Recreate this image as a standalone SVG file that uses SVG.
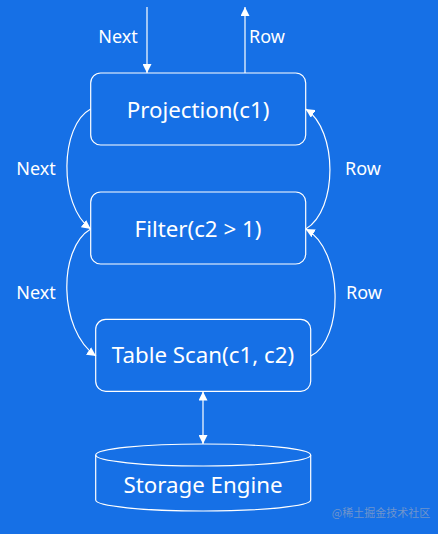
<svg xmlns="http://www.w3.org/2000/svg" width="438" height="534" viewBox="0 0 438 534">
<style>
.box{fill:none;stroke:#ffffff;stroke-width:1.2}
.ln{fill:none;stroke:#ffffff;stroke-width:1.2}
.t{font-family:"Noto Sans","Open Sans",sans-serif;fill:#ffffff;text-anchor:middle}
.big{font-size:22.3px}
.lbl{font-size:18px}
</style>
<defs>
<marker id="ah" viewBox="0 0 10 10" refX="10" refY="5" markerWidth="9" markerHeight="9" markerUnits="userSpaceOnUse" orient="auto">
<path d="M0,0 L10,5 L0,10 z" fill="#ffffff"/>
</marker>
<marker id="ahs" viewBox="0 0 10 10" refX="0" refY="5" markerWidth="9" markerHeight="9" markerUnits="userSpaceOnUse" orient="auto">
<path d="M10,0 L0,5 L10,10 z" fill="#ffffff"/>
</marker>
</defs>
<rect width="438" height="534" fill="#1670e6"/>
<g id="connectors">
<line class="ln" x1="147" y1="7" x2="147" y2="73" marker-end="url(#ah)"/>
<line class="ln" x1="245" y1="73" x2="245" y2="7" marker-end="url(#ah)"/>
<path class="ln" d="M90.7,109 C60,125 58,205 90.7,229" marker-end="url(#ah)"/>
<path class="ln" d="M305.7,229 C338,210 338,130 305.7,109" marker-end="url(#ah)"/>
<path class="ln" d="M90.7,229 C58,248 58,330 96,356" marker-end="url(#ah)"/>
<path class="ln" d="M310.7,356 C344,340 344,250 305.7,229" marker-end="url(#ah)"/>
<line class="ln" x1="203" y1="391.5" x2="203" y2="444" marker-start="url(#ahs)" marker-end="url(#ah)"/>
<text class="t lbl" x="118" y="43">Next</text>
<text class="t lbl" x="267" y="43">Row</text>
<text class="t lbl" x="36" y="175">Next</text>
<text class="t lbl" x="363" y="175">Row</text>
<text class="t lbl" x="36" y="299">Next</text>
<text class="t lbl" x="364" y="299">Row</text>
</g>
<g id="projection">
<rect class="box" x="90.7" y="73" width="215" height="72" rx="10"/>
<text class="t big" x="198" y="118">Projection(c1)</text>
</g>
<g id="filter">
<rect class="box" x="90.7" y="192" width="215" height="72" rx="10"/>
<text class="t big" x="198" y="237">Filter(c2 &gt; 1)</text>
</g>
<g id="tablescan">
<rect class="box" x="95.7" y="319.3" width="215" height="72" rx="10"/>
<text class="t big" x="203" y="363">Table Scan(c1, c2)</text>
</g>
<g id="storage">
<path class="box" d="M95.7,455 L95.7,500 A107.5,11 0 0 0 310.7,500 L310.7,455"/>
<ellipse class="box" cx="203.2" cy="455" rx="107.5" ry="11"/>
<text class="t big" x="203" y="493">Storage Engine</text>
</g>
<text x="381" y="517" font-family="'Noto Sans CJK SC',sans-serif" font-size="11" fill="#6f94cc" text-anchor="middle">@稀土掘金技术社区</text>
</svg>
